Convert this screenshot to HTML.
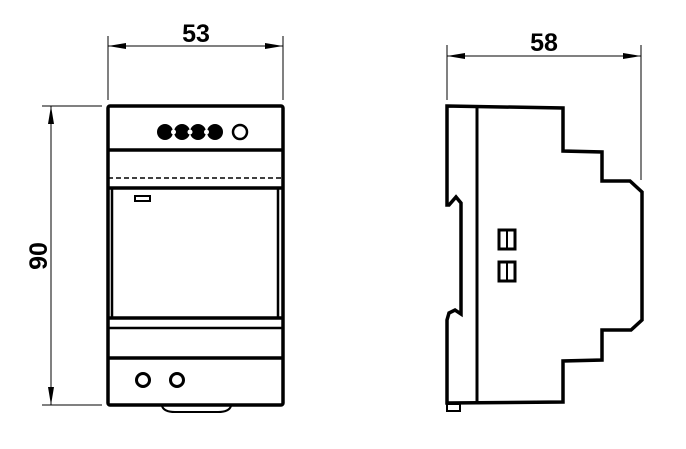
<!DOCTYPE html>
<html><head><style>body{margin:0;background:#fff}svg{display:block}</style></head><body>
<svg width="686" height="449" viewBox="0 0 686 449" xmlns="http://www.w3.org/2000/svg">
<defs>
<marker id="a" markerWidth="18" markerHeight="6" refX="18" refY="3" orient="auto" markerUnits="userSpaceOnUse"><path d="M0,0 L18,3 L0,6 Z" fill="#000"/></marker>
</defs>
<g stroke="#000" stroke-width="1" fill="none">
<line x1="108" y1="36" x2="108" y2="100"/><line x1="283" y1="36" x2="283" y2="100"/>
<line x1="197" y1="46" x2="108" y2="46" marker-end="url(#a)"/><line x1="197" y1="46" x2="283" y2="46" marker-end="url(#a)"/>
<line x1="42" y1="106" x2="102" y2="106"/><line x1="42" y1="405" x2="102" y2="405"/>
<line x1="51" y1="255" x2="51" y2="106" marker-end="url(#a)"/><line x1="51" y1="255" x2="51" y2="405" marker-end="url(#a)"/>
<line x1="447" y1="45" x2="447" y2="100"/><line x1="641" y1="45" x2="641" y2="180"/>
<line x1="544" y1="56" x2="447" y2="56" marker-end="url(#a)"/><line x1="544" y1="56" x2="641" y2="56" marker-end="url(#a)"/>
</g>
<g font-family="Liberation Sans, sans-serif" font-weight="bold" font-size="25" fill="#000">
<text x="196" y="42" text-anchor="middle">53</text>
<text x="544" y="51" text-anchor="middle">58</text>
<text transform="translate(47,256) rotate(-90)" text-anchor="middle">90</text>
</g>
<g stroke="#000" stroke-width="3.5" fill="none">
<rect x="108" y="106" width="175" height="299" rx="2"/>
<line x1="108" y1="150" x2="283" y2="150"/>
<line x1="108" y1="188" x2="283" y2="188"/>
<line x1="112" y1="188" x2="112" y2="318" stroke-width="2.5"/>
<line x1="278" y1="188" x2="278" y2="318" stroke-width="2.5"/>
<line x1="108" y1="318" x2="283" y2="318"/>
<line x1="108" y1="328" x2="283" y2="328" stroke-width="2.5"/>
<line x1="108" y1="358" x2="283" y2="358"/>
<path d="M162,406 Q164,412 175,412 L218,412 Q229,412 231,406" stroke-width="2"/>
<rect x="135" y="196" width="15" height="5" stroke-width="2"/>
<circle cx="143" cy="380" r="6.5" stroke-width="3"/>
<circle cx="177" cy="380" r="6.5" stroke-width="3"/>
<circle cx="240" cy="132" r="7" stroke-width="2.5"/>
</g>
<line x1="108" y1="178" x2="283" y2="178" stroke="#000" stroke-width="1.5" stroke-dasharray="5,3"/>
<g fill="#000">
<circle cx="165" cy="132" r="8"/><circle cx="182" cy="132" r="8"/><circle cx="198" cy="132" r="8"/><circle cx="215" cy="132" r="8"/>
</g>
<g fill="#fff"><circle cx="173.5" cy="132" r="2.5"/><circle cx="190" cy="132" r="2.5"/><circle cx="206.5" cy="132" r="2.5"/></g>
<g stroke="#000" stroke-width="3.5" fill="none" stroke-linejoin="miter">
<path d="M447,106 L563,108 L563,151 L602,152 L602,181 L630,181 L642,192 L642,320 L631,330 L602,330 L602,360 L563,361 L563,402 L447,403 L447,320 L449,313 L455,310 L461,314 L461,203 L456,197 L449,205 L447,205 Z"/>
<line x1="477" y1="106" x2="477" y2="403" stroke-width="3"/>
<rect x="447" y="404" width="13" height="7" stroke-width="2"/>
<rect x="499" y="230" width="16" height="19" stroke-width="3"/>
<rect x="499" y="262" width="16" height="19" stroke-width="3"/>
<line x1="507" y1="231" x2="507" y2="248" stroke-width="2"/>
<line x1="507" y1="263" x2="507" y2="280" stroke-width="2"/>
</g>
</svg>
</body></html>
